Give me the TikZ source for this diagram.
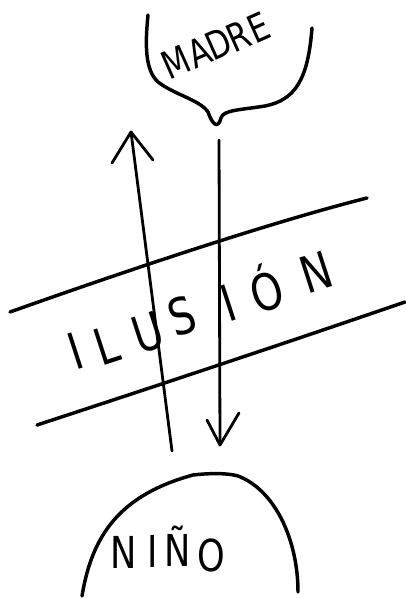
\documentclass[tikz,border=0pt]{standalone}
\usepackage{fontspec}
\newfontfamily\hand[FakeStretch=0.8]{DejaVu Sans}
\begin{document}
\begin{tikzpicture}[x=0.75pt,y=-0.75pt,
  ink/.style={line width=2.6pt,line cap=round,line join=round},
  thin ink/.style={line width=2.1pt,line cap=round,line join=round},
  big/.style={font=\hand\fontsize{38}{38}\selectfont,inner sep=0pt,rotate=18},
  mch/.style={font=\hand\fontsize{29}{29}\selectfont,inner sep=0pt,rotate=24},
  nch/.style={font=\hand\fontsize{33}{33}\selectfont,inner sep=0pt}]
\useasboundingbox (0,0) rectangle (405,599);
\fill[white] (0,0) rectangle (405,599);
% MADRE blob
\draw[ink] (148,15) .. controls (145,45) and (145,70) .. (158,82)
  .. controls (175,95) and (200,100) .. (208,112)
  .. controls (212,124) and (218,130) .. (221,118)
  .. controls (223,110) and (240,110) .. (265,106)
  .. controls (295,100) and (308,80) .. (312,28);
\node[mch] (m1) at (176,62) {M};
\node[mch] (m2) at (199,52) {A};
\node[mch] (m3) at (219,44) {D};
\node[mch] (m4) at (239,36) {R};
\node[mch] (m5) at (259,28) {E};
% NIÑO blob
\draw[ink] (82,596) .. controls (92,535) and (120,495) .. (193,475)
  .. controls (210,473) and (228,473) .. (238,476)
  .. controls (275,490) and (298,540) .. (298,592);
\node[nch] (n1) at (124,552) {N};
\node[nch] (n2) at (153,551) {I};
\node[nch,anchor=base] (n3) at (178,566) {Ñ};
\node[nch] (n4) at (211,555) {O};
% band
\coordinate (u1) at (10,312); \coordinate (u2) at (367,198);
\coordinate (l1) at (37,425); \coordinate (l2) at (405,302);
\draw[ink] (u1) .. controls (100,280) and (260,225) .. (u2);
\draw[ink] (l1) .. controls (150,388) and (280,345) .. (l2);
% ILUSIÓN letters
\node[big] (c1) at (75,351) {I};
\node[big] (c2) at (107,345) {L};
\node[big] (c3) at (148,333) {U};
\node[big] (c4) at (182,316) {S};
\node[big] (c5) at (228,303) {I};
\node[big] (c6) at (266,288) {Ó};
\node[big] (c7) at (316,272) {N};
% up arrow
\coordinate (a1) at (172,451); \coordinate (a2) at (131,132);
\coordinate (ab1) at (112,163); \coordinate (ab2) at (153,160);
\draw[thin ink] (a1) -- (a2);
\draw[thin ink] (ab1) -- (a2) -- (ab2);
% down arrow
\coordinate (d1) at (219,140); \coordinate (d2) at (220,445);
\coordinate (db1) at (207,420); \coordinate (db2) at (239,413);
\draw[thin ink] (d1) -- (d2);
\draw[thin ink] (db1) -- (d2) -- (db2);
\end{tikzpicture}
\end{document}
